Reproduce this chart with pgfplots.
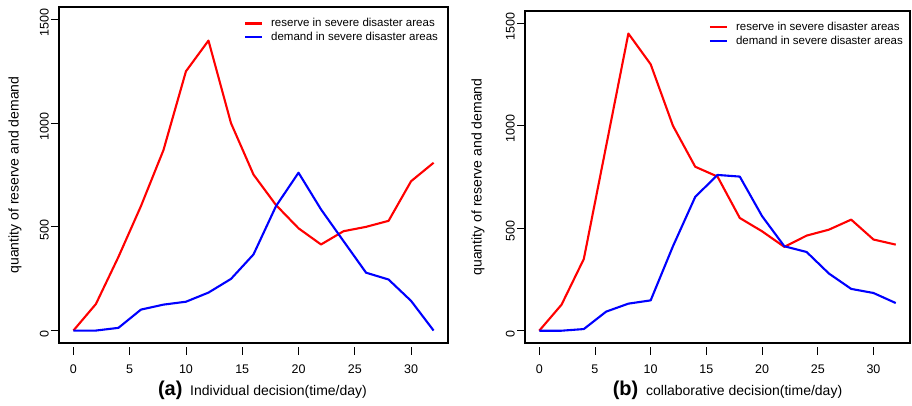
\documentclass[border=0pt]{standalone}
\usepackage{fontspec}
\setmainfont{Liberation Sans}
\usepackage{pgfplots}
\pgfplotsset{compat=1.18}

\pgfplotsset{
  rpanel/.style={
    scale only axis, anchor=south west,
    xmin=-1.28, xmax=33.28, ymin=-60, ymax=1560,
    xtick={0,5,...,30}, ytick={0,500,1000,1500},
    tick align=outside, major tick length=8pt,
    xtick pos=bottom, ytick pos=left,
    tick style={black, line width=0.8pt},
    xtick style={yshift=-4pt},
    axis line style={black, line width=1.2pt},
    /pgf/number format/assume math mode=true,
    /pgf/number format/1000 sep={},
    xticklabel style={font=\fontsize{12.5}{14}\selectfont, yshift=-10pt},
    yticklabel style={font=\fontsize{12.5}{14}\selectfont, rotate=90, anchor=south, inner sep=2pt, xshift=-3pt},
    label style={font=\fontsize{14}{16}\selectfont},
    ylabel={quantity of reserve and demand},
    legend cell align=left,
    legend style={draw=none, fill=none, anchor=north west, inner sep=0pt,
                  font=\fontsize{11.5}{13}\selectfont, row sep=0pt,
                  nodes={inner sep=2pt},
                  /tikz/every odd column/.append style={column sep=6pt}},
    every axis plot/.append style={line width=2.1pt, line join=round},
  },
}

\begin{document}
\begin{tikzpicture}
\useasboundingbox (0,0) rectangle (912pt,406pt);

% (a) individual decision
\begin{axis}[rpanel, at={(59pt,63pt)}, width=389pt, height=336pt,
  ylabel style={at={(axis description cs:-0.113,0.5)}, anchor=center},
  xlabel={{\fontsize{20}{22}\selectfont\bfseries (a)}\ \ Individual decision(time/day)},
  xlabel style={at={(axis description cs:0.523,-0.14)}, anchor=center},
  legend style={at={(axis description cs:0.475,0.972)}},
]
\addplot[red] coordinates {
  (0,0) (2,128) (4,355) (6,600) (8,870) (10,1250) (12,1398) (14,1000) (16,752)
  (18,605) (20,493) (22,415) (24,479) (26,500) (28,529) (30,720) (32,809)};
\addlegendentry{reserve in severe disaster areas}
\addplot[blue] coordinates {
  (0,0) (2,0) (4,13) (6,101) (8,125) (10,139) (12,183) (14,249) (16,367)
  (18,600) (20,761) (22,584) (24,431) (26,279) (28,246) (30,143) (32,0)};
\addlegendentry{demand in severe disaster areas}
\end{axis}

% (b) collaborative decision
\begin{axis}[rpanel, at={(525pt,63pt)}, width=385pt, height=332pt,
  ylabel style={at={(axis description cs:-0.122,0.5)}, anchor=center},
  xlabel={{\fontsize{20}{22}\selectfont\bfseries (b)}\ \ collaborative decision(time/day)},
  xlabel style={at={(axis description cs:0.526,-0.142)}, anchor=center},
  legend style={at={(axis description cs:0.477,0.972)}},
]
\addplot[red] coordinates {
  (0,0) (2,127) (4,350) (6,900) (8,1450) (10,1300) (12,1000) (14,800) (16,752)
  (18,550) (20,485) (22,409) (24,464) (26,493) (28,542) (30,445) (32,420)};
\addlegendentry{reserve in severe disaster areas}
\addplot[blue] coordinates {
  (0,0) (2,0) (4,8) (6,93) (8,132) (10,148) (12,412) (14,653) (16,760)
  (18,752) (20,559) (22,412) (24,384) (26,279) (28,204) (30,184) (32,135)};
\addlegendentry{demand in severe disaster areas}
\end{axis}
\end{tikzpicture}
\end{document}
